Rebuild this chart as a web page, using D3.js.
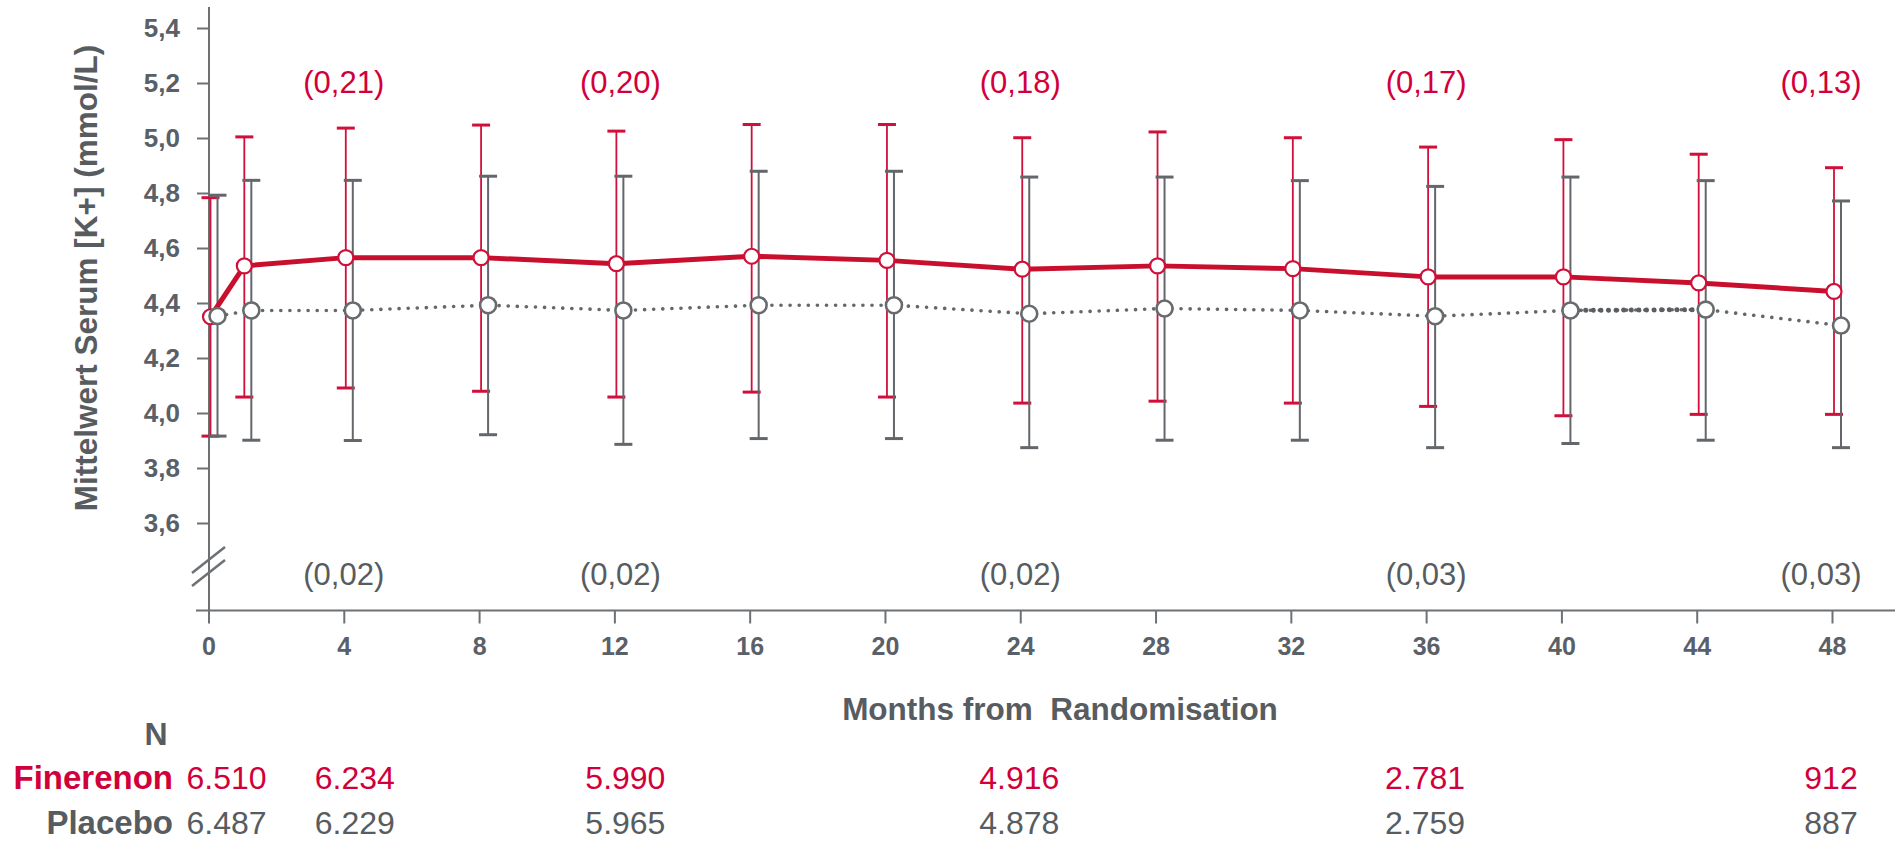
<!DOCTYPE html>
<html>
<head>
<meta charset="utf-8">
<script src="https://cdn.jsdelivr.net/npm/d3@7"></script>
<style>
  html, body { margin: 0; padding: 0; background: #fff; }
  svg { display: block; }
  text { font-family: "Liberation Sans", Arial, sans-serif; }
</style>
</head>
<body>
<svg id="chart" width="1899" height="842"></svg>
<script>
// ---------- data ----------
const months      = [0, 1, 4, 8, 12, 16, 20, 24, 28, 32, 36, 40, 44, 48];
const fineMean    = [4.350, 4.535, 4.565, 4.565, 4.543, 4.570, 4.555, 4.523, 4.535, 4.525, 4.495, 4.495, 4.473, 4.442];
const fineUpper   = [4.783, 5.004, 5.036, 5.047, 5.025, 5.049, 5.049, 5.001, 5.022, 5.001, 4.967, 4.994, 4.941, 4.892];
const fineLower   = [3.916, 4.058, 4.091, 4.079, 4.058, 4.076, 4.058, 4.036, 4.043, 4.036, 4.024, 3.990, 3.995, 3.995];
const placMean    = [4.353, 4.373, 4.373, 4.392, 4.373, 4.392, 4.392, 4.361, 4.380, 4.373, 4.352, 4.373, 4.376, 4.318];
const placUpper   = [4.792, 4.846, 4.846, 4.861, 4.861, 4.879, 4.879, 4.858, 4.858, 4.845, 4.824, 4.858, 4.845, 4.771];
const placLower   = [3.916, 3.901, 3.900, 3.921, 3.886, 3.907, 3.907, 3.874, 3.901, 3.901, 3.874, 3.889, 3.901, 3.874];

const xTicks = [0, 4, 8, 12, 16, 20, 24, 28, 32, 36, 40, 44, 48];
const yTicks = [3.6, 3.8, 4.0, 4.2, 4.4, 4.6, 4.8, 5.0, 5.2, 5.4];

const diffMonths = [4, 12, 24, 36, 48];
const fineDiff   = ["(0,21)", "(0,20)", "(0,18)", "(0,17)", "(0,13)"];
const placDiff   = ["(0,02)", "(0,02)", "(0,02)", "(0,03)", "(0,03)"];

const nMonths = [0, 4, 12, 24, 36, 48];
const nFine   = ["6.510", "6.234", "5.990", "4.916", "2.781", "912"];
const nPlac   = ["6.487", "6.229", "5.965", "4.878", "2.759", "887"];

// ---------- styles ----------
const RED = "#c8102e", RED_TXT = "#d2003a", GREY = "#63676b", GREY_TXT = "#575c60", AXIS = "#6e7174";
const NARROW = "'Liberation Sans Narrow', 'Liberation Sans', Arial, sans-serif";

const svg = d3.select("#chart");
const x = d3.scaleLinear().domain([0, 48]).range([208.5, 1832]);
const y = d3.scaleLinear().domain([3.6, 5.4]).range([523, 28]);
const axisX0 = 209, axisY0 = 610.5;
const fineOff = 2, placOff = 9;

const fine = months.map((m, i) => ({ m, mean: fineMean[i], lo: fineLower[i], hi: fineUpper[i] }));
const plac = months.map((m, i) => ({ m, mean: placMean[i], lo: placLower[i], hi: placUpper[i] }));

// ---------- axes ----------
const yAxis = d3.axisLeft(y).tickValues(yTicks).tickSize(12).tickPadding(17)
  .tickFormat(d => d.toFixed(1).replace(".", ","));
const gy = svg.append("g").attr("transform", `translate(${axisX0},0)`).call(yAxis);
gy.select(".domain").remove();
gy.selectAll(".tick line").attr("stroke", AXIS).attr("stroke-width", 2);
gy.selectAll(".tick text").attr("fill", "#5a6068").attr("font-size", 26).attr("font-weight", "bold")
  .attr("font-family", NARROW);

const xAxis = d3.axisBottom(x).tickValues(xTicks).tickSize(13).tickPadding(14);
const gx = svg.append("g").attr("transform", `translate(0,${axisY0})`).call(xAxis);
gx.select(".domain").remove();
gx.selectAll(".tick line").attr("stroke", AXIS).attr("stroke-width", 2);
gx.selectAll(".tick text").attr("fill", "#5a6068").attr("font-size", 25).attr("font-weight", "bold")
  .attr("font-family", NARROW);

svg.append("line").attr("x1", axisX0).attr("x2", axisX0).attr("y1", 7).attr("y2", axisY0)
  .attr("stroke", AXIS).attr("stroke-width", 2);
svg.append("line").attr("x1", 196).attr("x2", 1895).attr("y1", axisY0).attr("y2", axisY0)
  .attr("stroke", AXIS).attr("stroke-width", 2);
// axis break marks
[0, 13].forEach(dy => {
  svg.append("line").attr("x1", 192).attr("y1", 573 + dy).attr("x2", 225).attr("y2", 547 + dy)
    .attr("stroke", AXIS).attr("stroke-width", 2.5);
});

// axis titles
svg.append("text").attr("transform", "translate(97,278) rotate(-90)")
  .attr("text-anchor", "middle").attr("font-size", 31.5).attr("font-weight", "bold").attr("fill", GREY_TXT)
  .text("Mittelwert Serum [K+] (mmol/L)");
svg.append("text").attr("x", 1060).attr("y", 720).attr("text-anchor", "middle")
  .attr("font-size", 31.5).attr("font-weight", "bold").attr("fill", GREY_TXT)
  .attr("xml:space", "preserve").style("white-space", "pre")
  .text("Months from  Randomisation");

// ---------- error bars ----------
function errorBars(data, off, color, lineW) {
  const g = svg.append("g");
  g.selectAll("line.v").data(data).join("line")
    .attr("x1", d => x(d.m) + off).attr("x2", d => x(d.m) + off)
    .attr("y1", d => y(d.hi)).attr("y2", d => y(d.lo))
    .attr("stroke", color).attr("stroke-width", lineW);
  ["hi", "lo"].forEach(k => {
    g.selectAll("line.c" + k).data(data).join("line")
      .attr("x1", d => x(d.m) + off - 9).attr("x2", d => x(d.m) + off + 9)
      .attr("y1", d => y(d[k])).attr("y2", d => y(d[k]))
      .attr("stroke", color).attr("stroke-width", 3);
  });
}
errorBars(fine, fineOff, "#d0103a", 1.8);
errorBars(plac, placOff, GREY, 2);

// ---------- lines ----------
const linePlac = d3.line().x(d => x(d.m) + placOff).y(d => y(d.mean));
svg.append("path").datum(plac).attr("d", linePlac).attr("fill", "none")
  .attr("stroke", "#64686b").attr("stroke-width", 3.6).attr("stroke-linecap", "round")
  .attr("stroke-dasharray", "0.1,9");
// denser segment between 40 and 44 months
svg.append("path").datum(plac.filter(d => d.m >= 40 && d.m <= 44)).attr("d", linePlac).attr("fill", "none")
  .attr("stroke", "#5a5e62").attr("stroke-width", 5).attr("stroke-linecap", "round")
  .attr("stroke-dasharray", "0.1,7.5");

const lineFine = d3.line().x(d => x(d.m) + fineOff).y(d => y(d.mean));
svg.append("path").datum(fine).attr("d", lineFine).attr("fill", "none")
  .attr("stroke", RED).attr("stroke-width", 5).attr("stroke-linejoin", "round");

// ---------- markers ----------
svg.append("g").selectAll("circle").data(fine).join("circle")
  .attr("cx", d => x(d.m) + fineOff).attr("cy", d => y(d.mean)).attr("r", 7.5)
  .attr("fill", "#fff").attr("stroke", "#d0103a").attr("stroke-width", 2.2);
svg.append("g").selectAll("circle").data(plac).join("circle")
  .attr("cx", d => x(d.m) + placOff).attr("cy", d => y(d.mean)).attr("r", 8)
  .attr("fill", "#fff").attr("stroke", "#686b6e").attr("stroke-width", 2.6);

// ---------- difference annotations ----------
const annShift = m => (m === 48 ? -11 : m === 12 ? 6 : 0);
svg.append("g").selectAll("text").data(diffMonths).join("text")
  .attr("x", m => x(m) + annShift(m)).attr("y", 93).attr("text-anchor", "middle")
  .attr("font-size", 31).attr("fill", RED_TXT).text((m, i) => fineDiff[i]);
svg.append("g").selectAll("text").data(diffMonths).join("text")
  .attr("x", m => x(m) + annShift(m)).attr("y", 585).attr("text-anchor", "middle")
  .attr("font-size", 31).attr("fill", GREY_TXT).text((m, i) => placDiff[i]);

// ---------- number at risk table ----------
svg.append("text").attr("x", 156).attr("y", 745).attr("text-anchor", "middle")
  .attr("font-size", 32).attr("font-weight", "bold").attr("fill", GREY_TXT).text("N");
svg.append("text").attr("x", 173).attr("y", 789).attr("text-anchor", "end")
  .attr("font-size", 33).attr("font-weight", "bold").attr("fill", RED_TXT).text("Finerenon");
svg.append("text").attr("x", 173).attr("y", 834).attr("text-anchor", "end")
  .attr("font-size", 33).attr("font-weight", "bold").attr("fill", GREY_TXT).text("Placebo");

const nShift = m => (m === 0 ? 18 : m <= 12 ? 11 : -1);
svg.append("g").selectAll("text").data(nMonths).join("text")
  .attr("x", m => x(m) + nShift(m)).attr("y", 789).attr("text-anchor", "middle")
  .attr("font-size", 32).attr("fill", RED_TXT).text((m, i) => nFine[i]);
svg.append("g").selectAll("text").data(nMonths).join("text")
  .attr("x", m => x(m) + nShift(m)).attr("y", 834).attr("text-anchor", "middle")
  .attr("font-size", 32).attr("fill", GREY_TXT).text((m, i) => nPlac[i]);
</script>
</body>
</html>
